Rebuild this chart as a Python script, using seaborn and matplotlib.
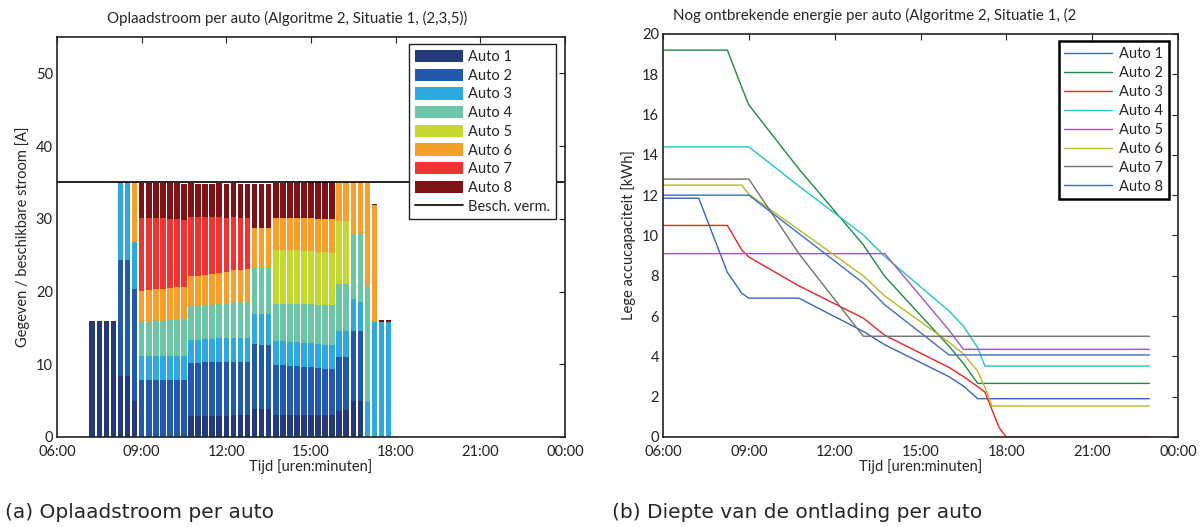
import numpy as np
import pandas as pd
import matplotlib
matplotlib.use("Agg")
import matplotlib.pyplot as plt
from matplotlib.patches import Patch
from matplotlib.lines import Line2D
import seaborn as sns

# ---------------- data: left chart (charging current per 15-min slot) ----------------
slot_labels = ["07:15", "07:30", "07:45", "08:00", "08:15", "08:30", "08:45",
               "09:00", "09:15", "09:30", "09:45", "10:00", "10:15", "10:30",
               "10:45", "11:00", "11:15", "11:30", "11:45", "12:00", "12:15", "12:30", "12:45",
               "13:00", "13:15", "13:30",
               "13:45", "14:00", "14:15", "14:30", "14:45", "15:00", "15:15", "15:30", "15:45",
               "16:00", "16:15", "16:30", "16:45", "17:00", "17:15", "17:30", "17:45"]

auto1_I = [15.8, 15.8, 15.8, 15.8, 8.4, 8.4, 5.0,
           0, 0, 0, 0, 0, 0, 0,
           2.85, 2.85, 2.9, 2.9, 2.95, 2.95, 3.0, 3.0, 3.0,
           3.8, 3.8, 3.8,
           3.0, 3.0, 3.0, 3.0, 3.0, 3.0, 3.0, 3.0, 3.0,
           3.6, 3.7, 5.0, 5.0, 0, 0, 0, 0]
auto2_I = [0, 0, 0, 0, 16.0, 16.0, 15.4,
           7.8, 7.8, 7.8, 7.8, 7.8, 7.8, 7.8,
           7.35, 7.35, 7.35, 7.35, 7.35, 7.35, 7.35, 7.35, 7.35,
           8.95, 8.9, 8.9,
           6.9, 6.85, 6.8, 6.7, 6.65, 6.6, 6.5, 6.4, 6.3,
           7.35, 7.3, 9.6, 9.6, 0, 0, 0, 0]
auto3_I = [0, 0, 0, 0, 10.5, 10.5, 6.4,
           3.35, 3.35, 3.35, 3.35, 3.35, 3.35, 3.35,
           3.2, 3.2, 3.2, 3.25, 3.25, 3.25, 3.3, 3.3, 3.3,
           4.2, 4.2, 4.2,
           3.3, 3.3, 3.3, 3.3, 3.3, 3.3, 3.3, 3.3, 3.3,
           3.6, 3.6, 4.4, 4.0, 4.8, 15.85, 15.85, 15.85]
auto4_I = [0, 0, 0, 0, 0, 0, 0,
           4.6, 4.65, 4.75, 4.85, 4.9, 5.0, 5.05,
           4.6, 4.6, 4.65, 4.7, 4.75, 4.8, 4.85, 4.9, 4.95,
           6.3, 6.3, 6.3,
           5.1, 5.15, 5.2, 5.25, 5.3, 5.35, 5.4, 5.45, 5.5,
           6.5, 6.5, 8.9, 9.3, 16.0, 0, 0, 0]
auto5_I = [0, 0, 0, 0, 0, 0, 0,
           0, 0, 0, 0, 0, 0, 0,
           0, 0, 0, 0, 0, 0, 0, 0, 0,
           0, 0, 0,
           7.45, 7.45, 7.4, 7.4, 7.35, 7.35, 7.3, 7.3, 7.25,
           8.6, 8.6, 0, 0, 0, 0, 0, 0]
auto6_I = [0, 0, 0, 0, 0, 0, 8.2,
           4.35, 4.4, 4.4, 4.4, 4.45, 4.45, 4.45,
           4.1, 4.15, 4.2, 4.25, 4.3, 4.35, 4.4, 4.4, 4.45,
           5.55, 5.55, 5.55,
           4.35, 4.35, 4.4, 4.4, 4.45, 4.45, 4.5, 4.55, 4.6,
           5.3, 5.3, 7.1, 7.1, 14.1, 16.0, 0, 0]
auto7_I = [0, 0, 0, 0, 0, 0, 0,
           10.05, 9.95, 9.8, 9.65, 9.5, 9.35, 9.2,
           8.2, 8.05, 7.9, 7.75, 7.6, 7.45, 7.3, 7.15, 7.0,
           0, 0, 0,
           0, 0, 0, 0, 0, 0, 0, 0, 0,
           0, 0, 0, 0, 0, 0, 0, 0]
auto8_I = [0.2, 0.2, 0.2, 0.2, 0.1, 0.1, 0.1,
           4.75, 4.8, 4.8, 4.85, 4.9, 4.95, 5.0,
           4.6, 4.6, 4.65, 4.65, 4.7, 4.7, 4.75, 4.75, 4.8,
           6.05, 6.05, 6.05,
           4.8, 4.8, 4.85, 4.9, 4.9, 4.95, 5.0, 5.0, 5.05,
           0, 0, 0, 0, 0, 0.2, 0.2, 0.2]

capacity_time = ["06:00", "24:00"]
capacity_value = [35, 35]

# ---------------- data: right chart (remaining energy per car) ----------------
auto1_t = ["06:00", "07:15", "08:15", "08:45", "09:00", "10:45", "13:00", "13:45", "16:00", "16:30", "17:00", "23:00"]
auto1_E = [11.85, 11.85, 8.17, 7.14, 6.89, 6.89, 5.24, 4.58, 2.99, 2.53, 1.9, 1.9]
auto2_t = ["06:00", "08:15", "08:45", "09:00", "10:45", "13:00", "13:45", "16:00", "16:30", "17:00", "23:00"]
auto2_E = [19.2, 19.2, 17.36, 16.48, 13.3, 9.54, 7.97, 4.5, 3.65, 2.66, 2.66]
auto3_t = ["06:00", "08:15", "08:45", "09:00", "10:45", "13:00", "13:45", "16:00", "16:30", "17:00", "17:15", "17:45", "18:00", "23:00"]
auto3_E = [10.5, 10.5, 9.29, 8.93, 7.5, 5.9, 5.05, 3.45, 3.0, 2.5, 2.23, 0.46, 0.0, 0.0]
auto4_t = ["06:00", "09:00", "10:45", "13:00", "13:45", "16:00", "16:30", "17:00", "17:15", "23:00"]
auto4_E = [14.4, 14.4, 12.45, 10.03, 8.96, 6.25, 5.5, 4.43, 3.52, 3.52]
auto5_t = ["06:00", "13:45", "16:00", "16:30", "23:00"]
auto5_E = [9.1, 9.1, 5.3, 4.35, 4.35]
auto6_t = ["06:00", "08:45", "09:00", "10:45", "13:00", "13:45", "16:00", "16:30", "17:00", "17:15", "17:30", "23:00"]
auto6_E = [12.5, 12.5, 12.05, 10.28, 8.0, 7.0, 4.7, 4.12, 3.27, 2.46, 1.54, 1.54]
auto7_t = ["06:00", "09:00", "10:45", "13:00", "23:00"]
auto7_E = [12.8, 12.8, 9.1, 5.0, 5.0]
auto8_t = ["06:00", "09:00", "10:45", "13:00", "13:45", "16:00", "23:00"]
auto8_E = [12.0, 12.0, 10.1, 7.64, 6.56, 4.07, 4.07]

autos = ["Auto 1", "Auto 2", "Auto 3", "Auto 4", "Auto 5", "Auto 6", "Auto 7", "Auto 8"]
xtick_labels = ["06:00", "09:00", "12:00", "15:00", "18:00", "21:00", "00:00"]

bar_colors = ["#253A7B", "#2259AA", "#2FA8E0", "#6CC6A6", "#C3D832", "#F6A02C", "#EE3331", "#7C1416"]
line_colors = ["#3565C0", "#1E8A45", "#E82525", "#22C4C4", "#A055C0", "#B8B825", "#707070", "#3F6FC0"]


def hours(labels):
    out = []
    for s in labels:
        h, m = s.split(":")
        out.append(int(h) + int(m) / 60.0)
    return np.array(out)


sns.set_theme(style="white")
plt.rcParams["font.family"] = ["Lato", "DejaVu Sans"]
plt.rcParams["axes.edgecolor"] = "#222222"
plt.rcParams["axes.linewidth"] = 1.2

fig = plt.figure(figsize=(12.04, 5.27), dpi=100)
ax1 = fig.add_axes([57 / 1204, 1 - 437 / 527, (565 - 57) / 1204, 400 / 527])
ax2 = fig.add_axes([663 / 1204, 1 - 437 / 527, (1178 - 663) / 1204, 403 / 527])

# ---------------- left: stacked bars via histplot ----------------
slot_t = hours(slot_labels)
currents = [auto1_I, auto2_I, auto3_I, auto4_I, auto5_I, auto6_I, auto7_I, auto8_I]
rows = []
for name, vals in zip(autos, currents):
    for t, v in zip(slot_t, vals):
        rows.append({"t": t, "I": v, "auto": name})
df = pd.DataFrame(rows)
sns.histplot(data=df, x="t", weights="I", hue="auto", hue_order=autos[::-1],
             multiple="stack", binwidth=0.25,
             binrange=(float(slot_t[0]) - 0.125, float(slot_t[-1]) + 0.125),
             shrink=0.8, alpha=1, linewidth=0,
             palette=dict(zip(autos, bar_colors)), legend=False, ax=ax1)
cap_df = pd.DataFrame({"t": hours(capacity_time), "v": capacity_value})
sns.lineplot(data=cap_df, x="t", y="v", color="black", lw=1.2, ax=ax1)

ax1.set_xlim(6, 24)
ax1.set_ylim(0, 55)
ax1.set_xticks(np.arange(6, 25, 3))
ax1.set_xticklabels(xtick_labels)
ax1.set_yticks([0, 10, 20, 30, 40, 50])
ax1.set_xlabel("Tijd [uren:minuten]", fontsize=10.5, labelpad=0)
ax1.set_ylabel("Gegeven / beschikbare stroom [A]", fontsize=10.5, labelpad=4)
ax1.set_title("Oplaadstroom per auto (Algoritme 2, Situatie 1, (2,3,5))", fontsize=10.8,
              x=0.453, pad=10)
handles = [Patch(facecolor=c, edgecolor="none", label=a) for a, c in zip(autos, bar_colors)]
handles.append(Line2D([], [], color="black", lw=1.2, label="Besch. verm."))
leg1 = ax1.legend(handles=handles, loc="upper right", bbox_to_anchor=(0.982, 0.9825),
                  fontsize=10.5, frameon=True, fancybox=False, edgecolor="#222222",
                  framealpha=1, handlelength=3.3, handleheight=0.95, labelspacing=0.3,
                  borderpad=0.4, handletextpad=0.35, borderaxespad=0)
leg1.get_frame().set_linewidth(1.0)

# ---------------- right: remaining energy lines ----------------
times = [auto1_t, auto2_t, auto3_t, auto4_t, auto5_t, auto6_t, auto7_t, auto8_t]
energies = [auto1_E, auto2_E, auto3_E, auto4_E, auto5_E, auto6_E, auto7_E, auto8_E]
for name, tt, ee, c in zip(autos, times, energies, line_colors):
    ldf = pd.DataFrame({"t": hours(tt), "E": ee})
    sns.lineplot(data=ldf, x="t", y="E", color=c, lw=1.0, label=name,
                 estimator=None, sort=False, ax=ax2)

ax2.set_xlim(6, 24)
ax2.set_ylim(0, 20)
ax2.set_xticks(np.arange(6, 25, 3))
ax2.set_xticklabels(xtick_labels)
ax2.set_yticks(np.arange(0, 21, 2))
ax2.set_xlabel("Tijd [uren:minuten]", fontsize=10.5, labelpad=0)
ax2.set_ylabel("Lege accucapaciteit [kWh]", fontsize=10.5, labelpad=4)
ax2.set_title("Nog ontbrekende energie per auto (Algoritme 2, Situatie 1, (2", fontsize=10.8,
              loc="left", x=0.02, pad=10)
leg2 = ax2.legend(loc="upper right", bbox_to_anchor=(0.9825, 0.9826), fontsize=10.5,
                  frameon=True, fancybox=False, edgecolor="black", framealpha=1,
                  handlelength=3.3, labelspacing=0.34, borderpad=0.4,
                  handletextpad=0.45, borderaxespad=0)
leg2.get_frame().set_linewidth(1.8)

for ax in (ax1, ax2):
    ax.tick_params(direction="in", top=True, right=True, length=4, width=0.8,
                   labelsize=10.5, colors="#222222")
    ax.tick_params(axis="x", pad=6)
    ax.tick_params(axis="y", pad=3)
    for s in ax.spines.values():
        s.set_color("#222222")
        s.set_linewidth(1.2)

fig.text(5 / 1204, 1 - 512 / 527, "(a) Oplaadstroom per auto", fontsize=14.5,
         family="DejaVu Sans", va="center", ha="left")
fig.text(612 / 1204, 1 - 512 / 527, "(b) Diepte van de ontlading per auto", fontsize=14.5,
         family="DejaVu Sans", va="center", ha="left")

fig.savefig("out.png", dpi=100)
